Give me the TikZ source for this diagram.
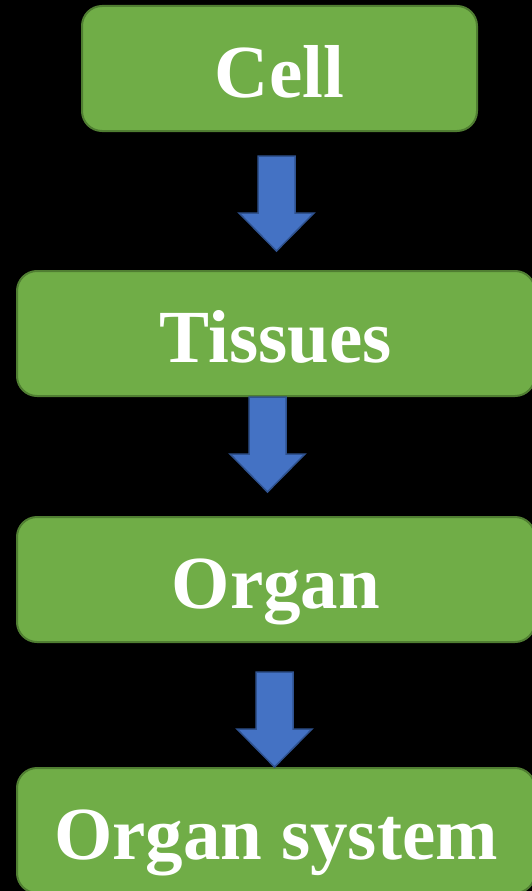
\documentclass[tikz,border=0pt]{standalone}
\usepackage{fontspec}
\setmainfont{Liberation Serif}
\definecolor{boxfill}{HTML}{70AD47}
\definecolor{boxline}{HTML}{507E32}
\definecolor{arrfill}{HTML}{4472C4}
\definecolor{arrline}{HTML}{2F528F}
\tikzset{
  stage/.style={draw=boxline, line width=2pt, fill=boxfill, rounded corners=20pt,
    inner sep=0pt, minimum height=125pt, text=white,
    font=\fontsize{75}{80}\selectfont\bfseries, text height=60pt, text depth=3pt},
  blockarrow/.pic={\draw[draw=arrline, line width=1.5pt, fill=arrfill, line join=miter]
    (-18.5,0) -- (18.5,0) -- (18.5,57) -- (37.5,57) -- (0,95) -- (-37.5,57) -- (-18.5,57) -- cycle;}
}
\begin{document}
\begin{tikzpicture}[x=1pt,y=-1pt]
\fill[black] (0,0) rectangle (532,891);
\useasboundingbox (0,0) rectangle (532,891);
\clip (0,0) rectangle (532,891);
\node[stage, minimum width=395pt] (cell) at (279.5,68.5) {Cell};
\node[stage, minimum width=518pt] (tissues) at (276,333.5) {Tissues};
\node[stage, minimum width=518pt] (organ) at (276,579.5) {Organ};
\node[stage, minimum width=518pt] (system) at (276,830.5) {Organ system};
\coordinate (a1) at (276.5,156);
\coordinate (a2) at (267.5,397);
\coordinate (a3) at (274.5,672);
\pic at (a1) {blockarrow};
\pic at (a2) {blockarrow};
\pic at (a3) {blockarrow};
\end{tikzpicture}
\end{document}
